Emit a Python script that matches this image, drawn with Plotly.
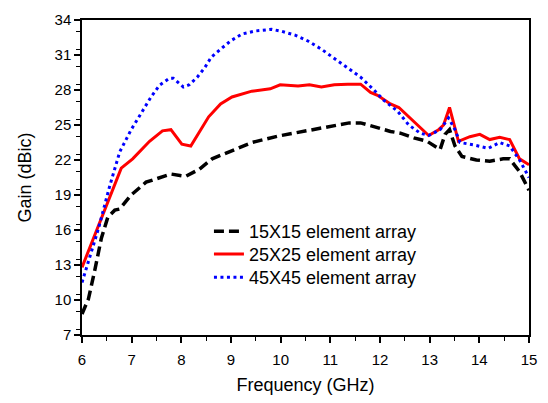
import plotly.graph_objects as go

# 15X15 element array
f15 = [6.0, 6.13, 6.26, 6.39, 6.52, 6.66, 6.76, 6.99, 7.29, 7.56, 7.79, 8.09, 8.36, 8.62, 9.02, 9.42,
       9.95, 10.49, 10.95, 11.38, 11.61, 11.88, 12.21, 12.41, 12.68, 12.95, 13.21, 13.31, 13.4, 13.51,
       13.65, 13.94, 14.21, 14.48, 14.61, 14.81, 15.0]
g15 = [8.8, 10.1, 12.6, 15.3, 17.1, 17.7, 17.8, 19.0, 20.1, 20.5, 20.8, 20.6, 21.2, 22.1, 22.8, 23.5,
       24.05, 24.45, 24.85, 25.18, 25.18, 24.85, 24.45, 24.3, 23.9, 23.6, 22.9, 24.2, 24.6, 23.2,
       22.3, 22.0, 21.9, 22.1, 22.1, 21.0, 19.4]

# 25X25 element array
f25 = [6.0, 6.3, 6.79, 7.02, 7.36, 7.62, 7.79, 8.01, 8.19, 8.55, 8.79, 9.02, 9.42, 9.79, 9.99, 10.35,
       10.58, 10.82, 11.08, 11.35, 11.61, 11.81, 11.95, 12.21, 12.38, 12.98, 13.18, 13.28, 13.4, 13.58,
       13.81, 14.01, 14.21, 14.41, 14.61, 14.81, 15.0]
g25 = [12.8, 16.0, 21.3, 22.1, 23.6, 24.5, 24.6, 23.35, 23.2, 25.7, 26.8, 27.4, 27.9, 28.1, 28.45, 28.35,
       28.45, 28.26, 28.45, 28.5, 28.5, 27.8, 27.55, 26.8, 26.5, 24.1, 24.6, 25.0, 26.5, 23.6,
       24.0, 24.2, 23.75, 23.95, 23.75, 22.1, 21.6]

# 45X45 element array
f45 = [6.0, 6.33, 6.56, 6.76, 6.99, 7.19, 7.39, 7.56, 7.76, 7.84, 7.94, 8.04, 8.16, 8.32, 8.47, 8.6,
       8.79, 8.99, 9.22, 9.49, 9.82, 10.02, 10.29, 10.55, 10.82, 11.08, 11.35, 11.61, 11.88, 12.08,
       12.35, 12.58, 12.81, 12.98, 13.21, 13.38, 13.51, 13.61, 13.88, 14.18, 14.41, 14.61, 14.81, 15.0]
g45 = [11.5, 16.1, 19.8, 22.7, 24.6, 25.95, 27.4, 28.4, 29.0, 29.0, 28.6, 28.26, 28.45, 29.1, 29.9, 30.8,
       31.5, 32.2, 32.8, 33.06, 33.2, 33.03, 32.7, 32.2, 31.5, 30.7, 29.9, 29.1, 28.0, 27.1,
       26.2, 25.0, 24.3, 24.1, 24.6, 25.6, 24.6, 23.5, 23.3, 23.0, 23.5, 23.2, 22.0, 20.5]

names = ["15X15 element array", "25X25 element array", "45X45 element array"]
x_ticks = [6, 7, 8, 9, 10, 11, 12, 13, 14, 15]
y_ticks = [7, 10, 13, 16, 19, 22, 25, 28, 31, 34]

FONT = "Arial, Liberation Sans, sans-serif"

fig = go.Figure()
fig.add_trace(go.Scatter(x=f15, y=g15, mode="lines", name=names[0], legend="legend",
                         line=dict(color="black", width=3.5, dash="10px,5px")))
fig.add_trace(go.Scatter(x=f25, y=g25, mode="lines", name=names[1], legend="legend2",
                         line=dict(color="#ff0000", width=3)))
fig.add_trace(go.Scatter(x=f45, y=g45, mode="lines", name=names[2], legend="legend3",
                         line=dict(color="#0000ff", width=3, dash="3px,3.5px")))

axis_common = dict(showline=True, linecolor="black", linewidth=1.5, mirror=True,
                   ticks="outside", ticklen=6, tickwidth=1.5, tickcolor="black",
                   showgrid=False, zeroline=False,
                   tickfont=dict(family=FONT, size=15, color="black"))

fig.update_xaxes(range=[6, 15], tickvals=x_ticks, ticklabelstandoff=4,
                 minor=dict(dtick=0.5, ticks="outside", ticklen=4, tickwidth=1.2, tickcolor="black"),
                 title=dict(text="Frequency (GHz)", font=dict(family=FONT, size=18, color="black"),
                            standoff=12),
                 **axis_common)
fig.update_yaxes(range=[7, 34], tickvals=y_ticks,
                 minor=dict(dtick=1.5, ticks="outside", ticklen=4, tickwidth=1.2, tickcolor="black"),
                 title=dict(text="Gain (dBic)", font=dict(family=FONT, size=18, color="black"),
                            standoff=18),
                 **axis_common)

leg = dict(x=0.284, xanchor="left", yanchor="top", bgcolor="rgba(0,0,0,0)", borderwidth=0,
           font=dict(family=FONT, size=18, color="black"), itemwidth=30)

fig.update_layout(
    width=548, height=403,
    margin=dict(l=82, r=15, t=11, b=61),
    paper_bgcolor="white", plot_bgcolor="white",
    showlegend=True,
    legend=dict(y=0.387, **leg),
    legend2=dict(y=0.315, **leg),
    legend3=dict(y=0.241, **leg),
)

fig.write_html("out.html")
